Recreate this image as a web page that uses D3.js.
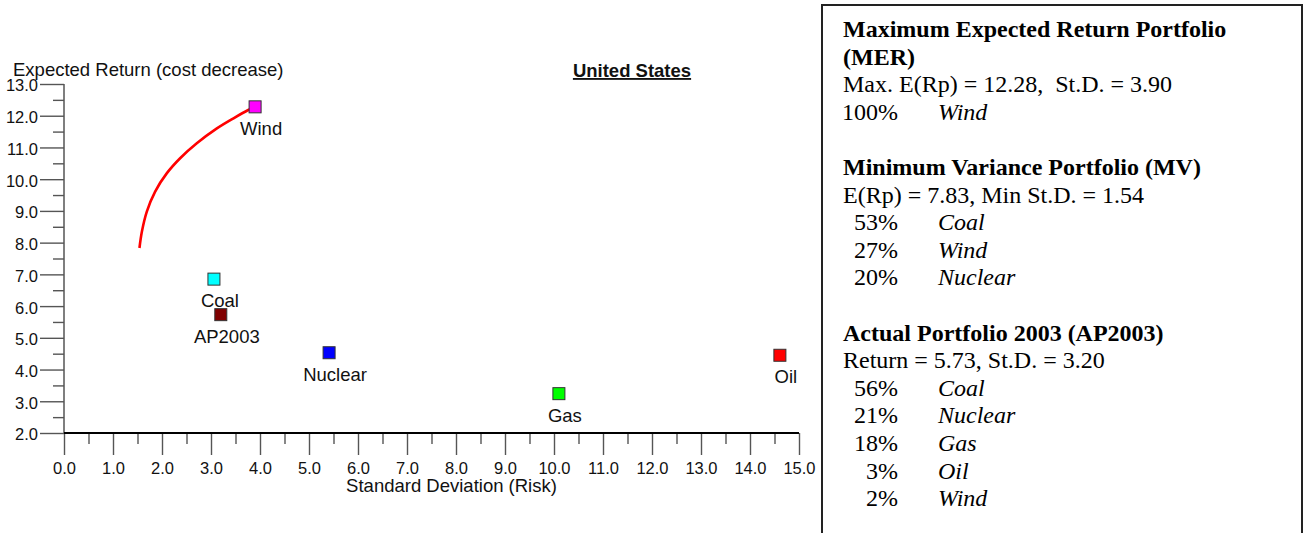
<!DOCTYPE html>
<html lang="en">
<head>
    <meta charset="UTF-8">
    <title>Efficient Frontier - United States</title>
    <style>
        body {
            margin: 0;
            padding: 0;
            background: #fff;
        }

        svg {
            display: block;
        }

        .sans {
            font-family: "Liberation Sans", Arial, sans-serif;
            fill: #111;
        }

        .serif {
            font-family: "Liberation Serif", "Times New Roman", serif;
            font-size: 24px;
            fill: #000;
            white-space: pre;
        }
    </style>
</head>
<body>
    <svg width="1306" height="533"></svg>

    <script src="https://d3js.org/d3.v7.min.js"></script>
    <script>
        // Technologies and their (risk, return) positions
        const techNames = ["Wind", "Coal", "AP2003", "Nuclear", "Gas", "Oil"];
        const techStdDev = [3.90, 3.06, 3.20, 5.41, 10.10, 14.61];
        const techReturn = [12.28, 6.85, 5.73, 4.53, 3.24, 4.45];
        const techColors = ["#ff00ff", "#00ffff", "#800000", "#0000ff", "#00ff00", "#ff0000"];

        // Efficient frontier (MV -> MER)
        const frontierStdDev = [1.54, 1.59, 1.69, 1.86, 2.10, 2.37, 2.71, 3.12, 3.46, 3.76, 3.90];
        const frontierReturn = [7.83, 8.35, 8.98, 9.61, 10.19, 10.66, 11.13, 11.60, 11.92, 12.18, 12.28];

        // Axis ticks
        const xTicks = d3.range(0, 15.01, 1);
        const xMinorTicks = d3.range(0.5, 15, 1);
        const yTicks = d3.range(2, 13.01, 1);
        const yMinorTicks = d3.range(2.5, 13, 1);

        // Text panel content
        const merTitle = ["Maximum Expected Return Portfolio", "(MER)"];
        const merStats = "Max. E(Rp) = 12.28,  St.D. = 3.90";
        const merPct = ["100%"];
        const merNames = ["Wind"];
        const mvTitle = "Minimum Variance Portfolio (MV)";
        const mvStats = "E(Rp) = 7.83, Min St.D. = 1.54";
        const mvPct = ["53%", "27%", "20%"];
        const mvNames = ["Coal", "Wind", "Nuclear"];
        const apTitle = "Actual Portfolio 2003 (AP2003)";
        const apStats = "Return = 5.73, St.D. = 3.20";
        const apPct = ["56%", "21%", "18%", "3%", "2%"];
        const apNames = ["Coal", "Nuclear", "Gas", "Oil", "Wind"];

        const svg = d3.select("svg");

        const x = d3.scaleLinear().domain([0, 15]).range([64, 799]);
        const y = d3.scaleLinear().domain([2, 13]).range([433, 84]);

        const fmt = d3.format(".1f");

        /*-------------- Axes ------------------*/
        // y axis: major + minor ticks
        const yMajor = svg.append("g")
            .attr("transform", `translate(${x(0)},0)`)
            .call(d3.axisLeft(y).tickValues(yTicks).tickSize(24).tickPadding(2).tickFormat(fmt));
        const yMinor = svg.append("g")
            .attr("transform", `translate(${x(0)},0)`)
            .call(d3.axisLeft(y).tickValues(yMinorTicks).tickSize(11).tickFormat(""));

        // x axis: major + minor ticks
        const xMajor = svg.append("g")
            .attr("transform", `translate(0,${y(2)})`)
            .call(d3.axisBottom(x).tickValues(xTicks).tickSize(22).tickPadding(7).tickFormat(fmt));
        const xMinor = svg.append("g")
            .attr("transform", `translate(0,${y(2)})`)
            .call(d3.axisBottom(x).tickValues(xMinorTicks).tickSize(11).tickFormat(""));

        [yMajor, yMinor, xMajor, xMinor].forEach(g => {
            g.select(".domain").remove();
            g.selectAll(".tick line").attr("stroke", "#555").attr("stroke-width", 1.4);
            g.selectAll(".tick text")
                .attr("class", "sans")
                .attr("font-size", "16.5px")
                .attr("fill", "#111");
        });
        yMajor.selectAll(".tick text").attr("dy", "0.42em");

        // axis lines
        svg.append("line")
            .attr("x1", x(0)).attr("x2", x(0))
            .attr("y1", y(13)).attr("y2", y(2))
            .attr("stroke", "#555").attr("stroke-width", 1.5);
        svg.append("line")
            .attr("x1", x(0)).attr("x2", x(15))
            .attr("y1", y(2)).attr("y2", y(2))
            .attr("stroke", "#000").attr("stroke-width", 2);

        // axis titles
        svg.append("text")
            .attr("class", "sans")
            .attr("x", 13).attr("y", 76)
            .attr("font-size", "18.5px")
            .text("Expected Return (cost decrease)");

        svg.append("text")
            .attr("class", "sans")
            .attr("x", (x(0) + x(15)) / 2 + 20).attr("y", 492)
            .attr("text-anchor", "middle")
            .attr("font-size", "18.5px")
            .text("Standard Deviation (Risk)");

        svg.append("text")
            .attr("class", "sans")
            .attr("x", 632).attr("y", 77)
            .attr("text-anchor", "middle")
            .attr("font-size", "18.5px")
            .attr("font-weight", "bold")
            .attr("text-decoration", "underline")
            .text("United States");

        /*-------------- Frontier ------------------*/
        const frontier = frontierStdDev.map((s, i) => [s, frontierReturn[i]]);
        svg.append("path")
            .datum(frontier)
            .attr("fill", "none")
            .attr("stroke", "#ff0000")
            .attr("stroke-width", 2.6)
            .attr("d", d3.line()
                .x(d => x(d[0]))
                .y(d => y(d[1]))
                .curve(d3.curveCatmullRom));

        /*-------------- Points ------------------*/
        const points = techNames.map((n, i) => ({
            name: n, sd: techStdDev[i], ret: techReturn[i], color: techColors[i]
        }));
        const sq = 12;

        svg.selectAll(".pt")
            .data(points)
            .enter()
            .append("rect")
            .attr("class", "pt")
            .attr("x", d => x(d.sd) - sq / 2)
            .attr("y", d => y(d.ret) - sq / 2)
            .attr("width", sq)
            .attr("height", sq)
            .attr("fill", d => d.color)
            .attr("stroke", "#333")
            .attr("stroke-width", 1);

        svg.selectAll(".pt-label")
            .data(points)
            .enter()
            .append("text")
            .attr("class", "sans pt-label")
            .attr("x", d => x(d.sd) + 6)
            .attr("y", d => y(d.ret) + 28)
            .attr("text-anchor", "middle")
            .attr("font-size", "18.5px")
            .text(d => d.name);

        /*-------------- Text panel ------------------*/
        svg.append("path")
            .attr("d", "M822,540 L822,5 L1302,5 L1302,540")
            .attr("fill", "none")
            .attr("stroke", "#222")
            .attr("stroke-width", 2);

        const lineH = 27.6;
        const panelTop = 37;
        const panelLeft = 843;
        const pctRight = 898;
        const nameLeft = 938;
        const panel = svg.append("g");

        function addLine(row, str, bold) {
            panel.append("text")
                .attr("class", "serif")
                .attr("x", panelLeft)
                .attr("y", panelTop + row * lineH)
                .attr("font-weight", bold ? "bold" : "normal")
                .text(str);
        }

        function addWeights(row, pcts, names) {
            pcts.forEach((p, i) => {
                panel.append("text")
                    .attr("class", "serif")
                    .attr("x", pctRight)
                    .attr("y", panelTop + (row + i) * lineH)
                    .attr("text-anchor", "end")
                    .text(p);
                panel.append("text")
                    .attr("class", "serif")
                    .attr("x", nameLeft)
                    .attr("y", panelTop + (row + i) * lineH)
                    .attr("font-style", "italic")
                    .text(names[i]);
            });
        }

        addLine(0, merTitle[0], true);
        addLine(1, merTitle[1], true);
        addLine(2, merStats, false);
        addWeights(3, merPct, merNames);

        addLine(5, mvTitle, true);
        addLine(6, mvStats, false);
        addWeights(7, mvPct, mvNames);

        addLine(11, apTitle, true);
        addLine(12, apStats, false);
        addWeights(13, apPct, apNames);
    </script>
</body>
</html>
